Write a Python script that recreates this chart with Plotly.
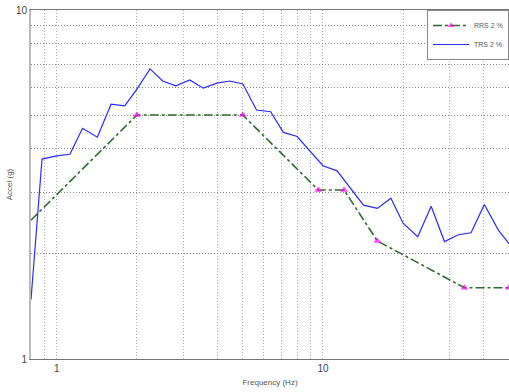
import plotly.graph_objects as go

# TRS 2 % (test response spectrum)
trs_freq = [0.8, 0.88, 1.0, 1.12, 1.25, 1.42, 1.6, 1.8, 2.0, 2.24, 2.5, 2.8, 3.16, 3.55, 4.0, 4.47,
            5.0, 5.63, 6.36, 7.1, 8.0, 10.0, 11.3, 14.2, 16.0, 18.0, 20.0, 22.7, 25.5, 28.6, 32.3,
            36.0, 40.4, 45.6, 50.0]
trs_acc = [1.48, 3.74, 3.82, 3.86, 4.58, 4.32, 5.37, 5.31, 5.93, 6.78, 6.26, 6.06, 6.30, 5.97, 6.17, 6.26,
           6.14, 5.17, 5.11, 4.46, 4.34, 3.58, 3.46, 2.76, 2.70, 2.89, 2.45, 2.24, 2.74, 2.17, 2.27,
           2.30, 2.77, 2.34, 2.14]

# RRS 2 % (required response spectrum)
rrs_freq = [0.8, 2.0, 5.0, 9.6, 12.0, 16.0, 34.0, 50.0]
rrs_acc = [2.5, 5.0, 5.0, 3.05, 3.05, 2.18, 1.6, 1.6]

x_grid = [0.9, 1, 2, 3, 4, 5, 6, 7, 8, 9, 10, 20, 30, 40, 50]
x_text = ["", "1", "", "", "", "", "", "", "", "", "10", "", "", "", ""]
y_grid = [1, 2, 3, 4, 5, 6, 7, 8, 9, 10]
y_text = ["1", "", "", "", "", "", "", "", "", "10"]

fig = go.Figure()
fig.add_trace(go.Scatter(
    x=rrs_freq, y=rrs_acc, mode="lines+markers", name="RRS 2 %",
    line=dict(color="#2f6b2f", width=1.6, dash="dashdot"),
    marker=dict(symbol="triangle-up", color="#ff00ff", size=[0, 7, 7, 7, 7, 7, 7, 7],
                line=dict(width=0)),
))
fig.add_trace(go.Scatter(
    x=trs_freq, y=trs_acc, mode="lines", name="TRS 2 %",
    line=dict(color="#2a2aff", width=1.2),
))

axis_font = dict(family="Liberation Sans, Arial, sans-serif", size=10, color="#444")
fig.update_layout(
    width=509, height=392,
    margin=dict(l=31, r=0, t=10, b=33, autoexpand=False),
    paper_bgcolor="white", plot_bgcolor="white",
    font=dict(family="Liberation Sans, Arial, sans-serif", size=9, color="#444"),
    showlegend=True,
    legend=dict(x=1, y=1, xanchor="right", yanchor="top",
                bgcolor="white", bordercolor="#888", borderwidth=1,
                font=dict(size=7, color="#555"), tracegroupgap=0,
                itemwidth=36),
    xaxis=dict(type="log", range=[-0.09691, 1.69897], automargin=False,
               tickvals=x_grid, ticktext=x_text, tickfont=axis_font,
               showgrid=True, gridcolor="#b0b0b0", griddash="1px,2px", gridwidth=1,
               showline=True, linecolor="#777", linewidth=1, mirror=True,
               ticks="", zeroline=False,
               title=dict(text="Frequency (Hz)", font=dict(size=8, color="#555"), standoff=6)),
    yaxis=dict(type="log", range=[0, 1], automargin=False,
               tickvals=y_grid, ticktext=y_text, tickfont=axis_font,
               showgrid=True, gridcolor="#888", griddash="1px,2px", gridwidth=1,
               showline=True, linecolor="#bbb", linewidth=2,
               ticks="", zeroline=False,
               title=dict(text="Accel (g)", font=dict(size=8, color="#555"), standoff=2)),
)

fig.write_html("out.html", config={"displayModeBar": False, "staticPlot": True},
               post_script="document.body.style.margin='0';document.body.style.overflow='hidden';")
